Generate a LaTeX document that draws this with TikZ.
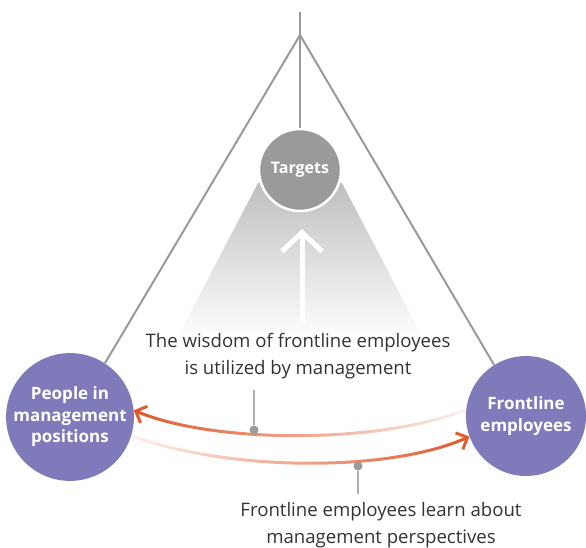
\documentclass[tikz,border=0pt]{standalone}
\usepackage{fontspec}
\setmainfont{Open Sans}
\usetikzlibrary{arrows.meta,fadings}
\definecolor{purp}{HTML}{7F7BBB}
\definecolor{tgray}{HTML}{9A9A9A}
\definecolor{lgray}{HTML}{9A9A9A}
\definecolor{orng}{HTML}{E0582A}
\definecolor{txt}{HTML}{333333}
\tikzfading[name=fadeToRight, left color=transparent!0, middle color=transparent!0, right color=transparent!92]
\tikzfading[name=fadeToLeft, left color=transparent!92, middle color=transparent!0, right color=transparent!0]
\tikzset{
  actor/.style={circle, fill=purp, minimum size=120pt, inner sep=0pt, text=white,
    font=\fontsize{17}{21.5}\selectfont\bfseries, align=center},
  target/.style={circle, fill=tgray, draw=white, line width=2.5pt, minimum size=82pt,
    inner sep=0pt, text=white, font=\fontsize{16}{19}\selectfont\bfseries},
  frame/.style={draw=lgray, line width=2pt},
  flow/.style={draw=orng, line width=3pt, -{Straight Barb[length=9pt,width=18pt,line width=3pt]}},
  pointer/.style={draw=lgray!80, line width=1.2pt},
  dotmark/.style={circle, fill=lgray, inner sep=0pt, minimum size=9pt},
  caption/.style={text=txt, align=center, font=\fontsize{18.6}{27}\selectfont}
}
\begin{document}
\begin{tikzpicture}[x=1pt,y=-1pt]
\useasboundingbox (0,0) rectangle (586,547);
% gradient beam
\shade[top color=black!25, bottom color=white] (258,183) -- (342,183) -- (424,340) -- (176,340) -- cycle;
% frame
\coordinate (top) at (300,12);
\coordinate (apex) at (300,35);
\node[actor] (pm) at (70,417) {People in\\management\\positions};
\node[actor] (fe) at (526,416) {Frontline\\employees};
\node[target] (tg) at (300,170) {Targets};
\draw[frame] (top) -- (apex) -- (tg.north);
\draw[frame] (apex) -- (pm.57);
\draw[frame] (apex) -- (fe.122);
% white arrow
\coordinate (wa0) at (302,322);
\coordinate (wa1) at (302,229);
\draw[white, line width=5pt, -{Straight Barb[length=19pt,width=40pt,line width=5pt]}] (wa0) -- (wa1);
% flows
\draw[flow, path fading=fadeToRight] (fe.174) .. controls (380,444) and (215,444) .. (pm.6);
\draw[flow, path fading=fadeToLeft] (pm.-17) .. controls (230,472) and (390,472) .. (fe.200);
% labels
\node[caption] (wis) at (298,356) {The wisdom of frontline employees\\is utilized by management};
\node[dotmark] (d1) at (254,430) {};
\coordinate (p1) at (254,390);
\draw[pointer] (p1) -- (d1);
\node[dotmark] (d2) at (358,466) {};
\coordinate (p2) at (358,494);
\draw[pointer] (d2) -- (p2);
\node[caption] (learn) at (381,525) {Frontline employees learn about\\management perspectives};
\end{tikzpicture}
\end{document}
